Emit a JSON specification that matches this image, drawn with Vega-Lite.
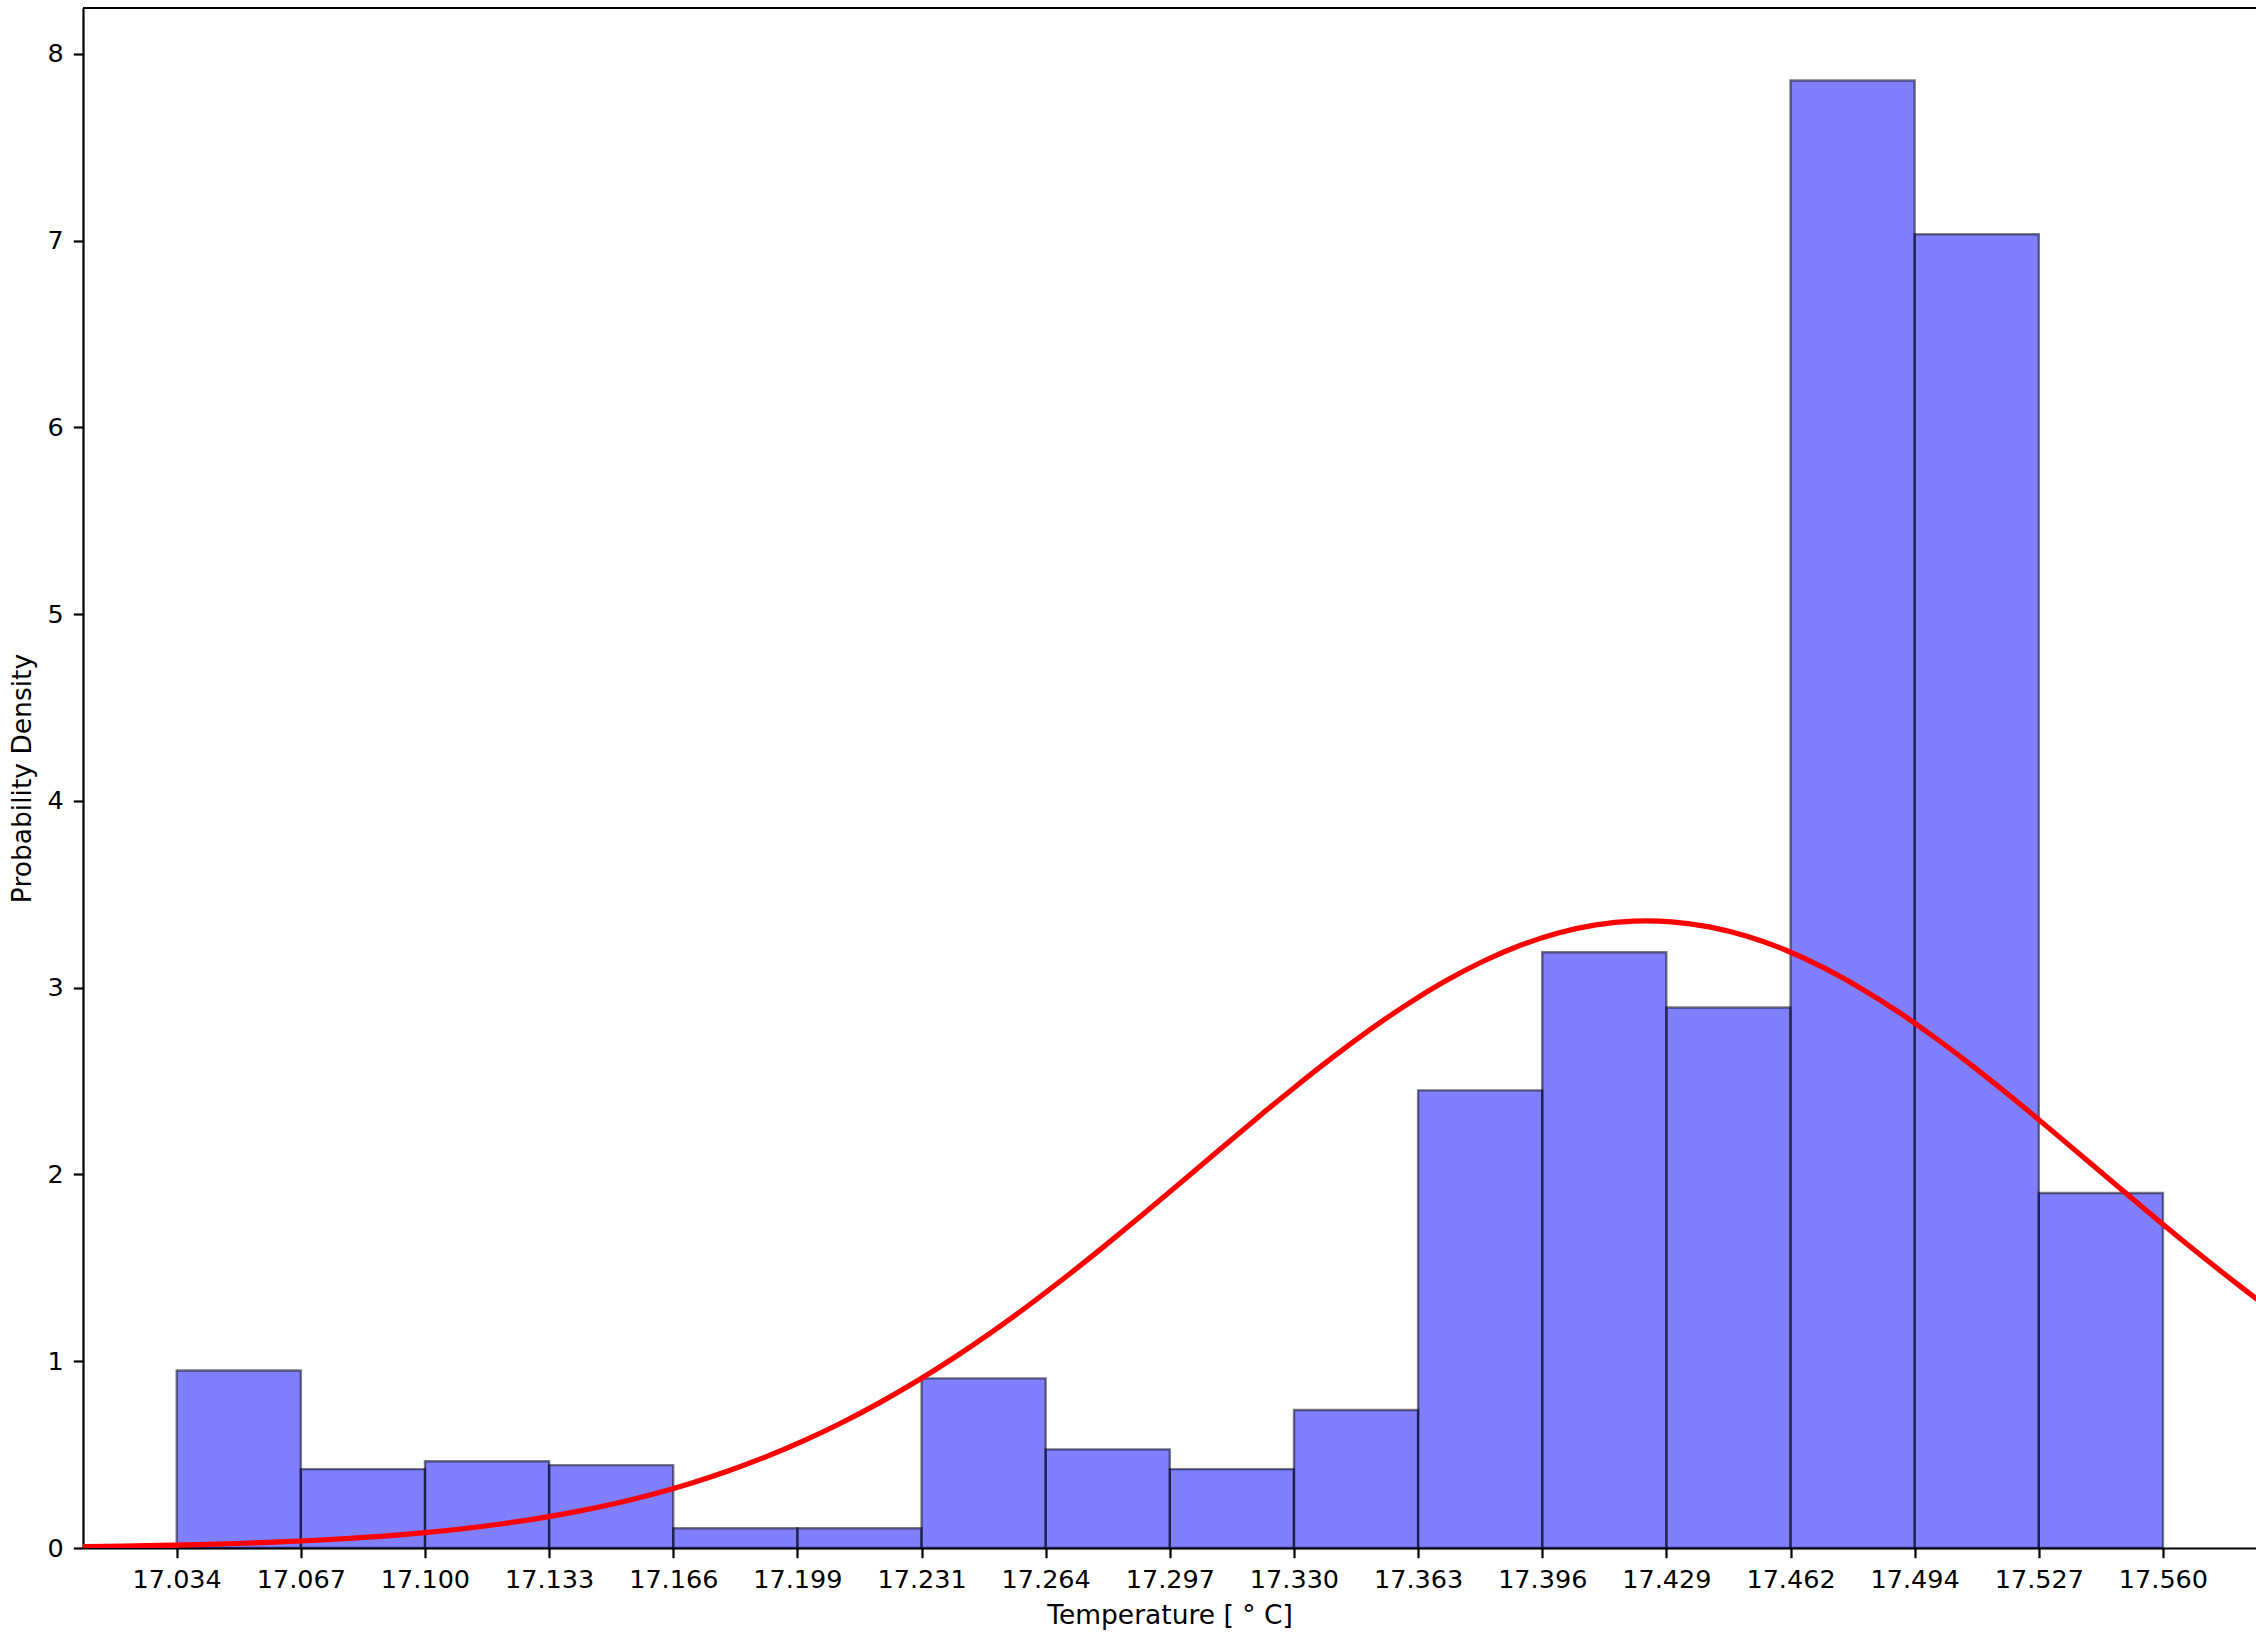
{
  "$schema": "https://vega.github.io/schema/vega-lite/v6.json",
  "autosize": {"type": "none"},
  "padding": {"left": 83, "top": 8, "right": 0, "bottom": 85},
  "width": 2173,
  "height": 1540,
  "background": "white",
  "config": {
    "view": {"stroke": null},
    "font": "DejaVu Sans",
    "axis": {
      "grid": false,
      "domainColor": "black",
      "domainWidth": 2.2,
      "tickColor": "black",
      "tickWidth": 2.2,
      "tickSize": 9.7,
      "labelFont": "DejaVu Sans",
      "labelFontSize": 25.5,
      "labelColor": "black",
      "labelPadding": 10,
      "titleFont": "DejaVu Sans",
      "titleFontSize": 26.5,
      "titleFontWeight": "normal",
      "titleColor": "black"
    }
  },
  "datasets": {
    "hist": [
      {"start": 17.0342, "end": 17.06707, "density": 0.9506},
      {"start": 17.06707, "end": 17.09994, "density": 0.4225},
      {"start": 17.09994, "end": 17.13281, "density": 0.4647},
      {"start": 17.13281, "end": 17.16568, "density": 0.4436},
      {"start": 17.16568, "end": 17.19855, "density": 0.1056},
      {"start": 17.19855, "end": 17.23142, "density": 0.1056},
      {"start": 17.23142, "end": 17.26429, "density": 0.9083},
      {"start": 17.26429, "end": 17.29716, "density": 0.5281},
      {"start": 17.29716, "end": 17.33003, "density": 0.4225},
      {"start": 17.33003, "end": 17.3629, "density": 0.7393},
      {"start": 17.3629, "end": 17.39577, "density": 2.4504},
      {"start": 17.39577, "end": 17.42864, "density": 3.1897},
      {"start": 17.42864, "end": 17.46151, "density": 2.894},
      {"start": 17.46151, "end": 17.49438, "density": 7.8581},
      {"start": 17.49438, "end": 17.52725, "density": 7.0343},
      {"start": 17.52725, "end": 17.56012, "density": 1.9012}
    ],
    "curve": [
      {"t": 17.00, "pdf": 0.00585},
      {"t": 17.01, "pdf": 0.00786},
      {"t": 17.02, "pdf": 0.01050},
      {"t": 17.03, "pdf": 0.01393},
      {"t": 17.04, "pdf": 0.01833},
      {"t": 17.05, "pdf": 0.02397},
      {"t": 17.06, "pdf": 0.03112},
      {"t": 17.07, "pdf": 0.04013},
      {"t": 17.08, "pdf": 0.05138},
      {"t": 17.09, "pdf": 0.06528},
      {"t": 17.10, "pdf": 0.08237},
      {"t": 17.11, "pdf": 0.10326},
      {"t": 17.12, "pdf": 0.12852},
      {"t": 17.13, "pdf": 0.15877},
      {"t": 17.14, "pdf": 0.19474},
      {"t": 17.15, "pdf": 0.23722},
      {"t": 17.16, "pdf": 0.28695},
      {"t": 17.17, "pdf": 0.34461},
      {"t": 17.18, "pdf": 0.41090},
      {"t": 17.19, "pdf": 0.48662},
      {"t": 17.20, "pdf": 0.57212},
      {"t": 17.21, "pdf": 0.66796},
      {"t": 17.22, "pdf": 0.77427},
      {"t": 17.23, "pdf": 0.89127},
      {"t": 17.24, "pdf": 1.01861},
      {"t": 17.25, "pdf": 1.15599},
      {"t": 17.26, "pdf": 1.30253},
      {"t": 17.27, "pdf": 1.45738},
      {"t": 17.28, "pdf": 1.61914},
      {"t": 17.29, "pdf": 1.78606},
      {"t": 17.30, "pdf": 1.95616},
      {"t": 17.31, "pdf": 2.12756},
      {"t": 17.32, "pdf": 2.29754},
      {"t": 17.33, "pdf": 2.46361},
      {"t": 17.34, "pdf": 2.62311},
      {"t": 17.35, "pdf": 2.77312},
      {"t": 17.36, "pdf": 2.91110},
      {"t": 17.37, "pdf": 3.03428},
      {"t": 17.38, "pdf": 3.14032},
      {"t": 17.39, "pdf": 3.22720},
      {"t": 17.40, "pdf": 3.29306},
      {"t": 17.41, "pdf": 3.33647},
      {"t": 17.42, "pdf": 3.35664},
      {"t": 17.43, "pdf": 3.35307},
      {"t": 17.44, "pdf": 3.32586},
      {"t": 17.45, "pdf": 3.27559},
      {"t": 17.46, "pdf": 3.20330},
      {"t": 17.47, "pdf": 3.11047},
      {"t": 17.48, "pdf": 2.99903},
      {"t": 17.49, "pdf": 2.87118},
      {"t": 17.50, "pdf": 2.72936},
      {"t": 17.51, "pdf": 2.57620},
      {"t": 17.52, "pdf": 2.41455},
      {"t": 17.53, "pdf": 2.24694},
      {"t": 17.54, "pdf": 2.07629},
      {"t": 17.55, "pdf": 1.90499},
      {"t": 17.56, "pdf": 1.73548},
      {"t": 17.57, "pdf": 1.56999},
      {"t": 17.58, "pdf": 1.41018},
      {"t": 17.59, "pdf": 1.25768},
      {"t": 17.60, "pdf": 1.11378}
    ]
  },
  "layer": [
    {
      "data": {"name": "hist"},
      "mark": {"type": "rect", "fill": "blue", "fillOpacity": 0.5, "stroke": "black", "strokeOpacity": 0.5, "strokeWidth": 2.4},
      "encoding": {
        "x": {
          "field": "start", "type": "quantitative",
          "scale": {"domain": [17.00939, 17.58476], "nice": false, "zero": false, "padding": 0},
          "axis": {
            "title": "Temperature [ ° C]",
            "values": [17.0342, 17.06707, 17.09994, 17.13281, 17.16568, 17.19855, 17.23142, 17.26429, 17.29716, 17.33003, 17.3629, 17.39577, 17.42864, 17.46151, 17.49438, 17.52725, 17.56012],
            "format": ".3f",
            "labelFlush": false,
            "labelOverlap": false,
            "titleY": 75,
            "titleBaseline": "alphabetic"
          }
        },
        "x2": {"field": "end"},
        "y": {
          "field": "density", "type": "quantitative",
          "scale": {"domain": [0, 8.246], "nice": false, "zero": true, "padding": 0},
          "axis": {
            "title": "Probability Density",
            "values": [0, 1, 2, 3, 4, 5, 6, 7, 8],
            "format": "d",
            "labelFlush": false,
            "titleX": -61,
            "titleY": 770,
            "titleAngle": -90,
            "titleAlign": "center",
            "titleBaseline": "middle"
          }
        },
        "y2": {"datum": 0}
      }
    },
    {
      "data": {"name": "curve"},
      "mark": {"type": "line", "color": "red", "strokeWidth": 5.2, "clip": true, "interpolate": "natural"},
      "encoding": {
        "x": {"field": "t", "type": "quantitative"},
        "y": {"field": "pdf", "type": "quantitative"}
      }
    },
    {
      "data": {"values": [{}]},
      "mark": {"type": "rule", "color": "black", "strokeWidth": 2.2},
      "encoding": {"y": {"datum": 8.246}}
    }
  ]
}
